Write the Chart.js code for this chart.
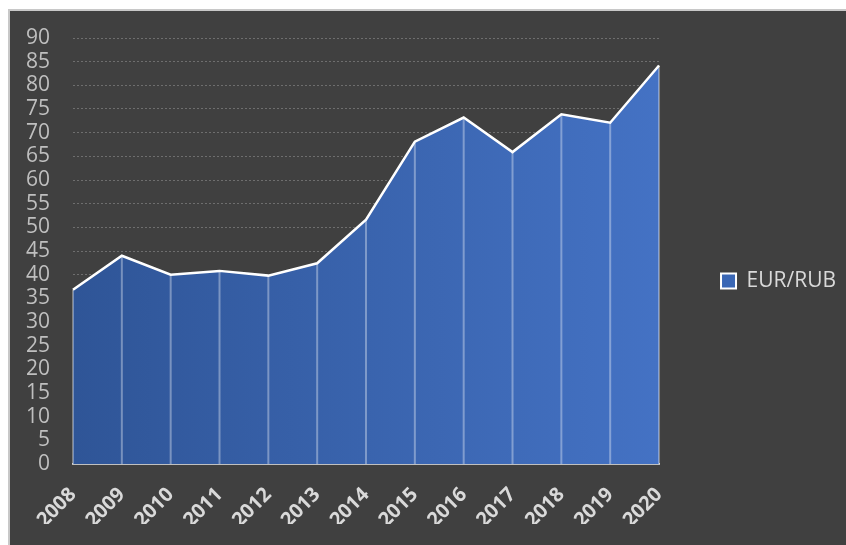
<!DOCTYPE html>
<html>
<head>
<meta charset="utf-8">
<script src="https://cdn.jsdelivr.net/npm/chart.js@4/dist/chart.umd.min.js"></script>
<style>
  html, body { margin: 0; padding: 0; background: #ffffff; }
  #frame {
    position: absolute; left: 8px; top: 9px; width: 836px; height: 534px;
    background: #404040; border-left: 2px solid #c8c8c8; border-top: 2px solid #c8c8c8;
  }
  canvas { display: block; }
</style>
</head>
<body>
<div id="frame"><canvas id="chart" width="836" height="534"></canvas></div>
<script>
const years = ['2008', '2009', '2010', '2011', '2012', '2013', '2014', '2015', '2016', '2017', '2018', '2019', '2020'];
const eurRub = [36.8, 44.0, 40.0, 40.8, 39.8, 42.4, 51.6, 68.1, 73.2, 65.9, 73.9, 72.1, 84.2];
const seriesName = 'EUR/RUB';
const yMin = 0, yMax = 90, yStep = 5;

const fillLeft = '#2f5597';
const fillRight = '#4472c4';

// light vertical line under each point, drawn after the fill and before the white line
const dropLines = {
    id: 'dropLines',
    beforeDatasetDraw(chart, args) {
        const ctx = chart.ctx;
        const bottom = chart.scales.y.getPixelForValue(0);
        ctx.save();
        ctx.strokeStyle = 'rgba(255,255,255,0.35)';
        ctx.lineWidth = 2;
        args.meta.data.forEach(pt => {
            ctx.beginPath();
            ctx.moveTo(pt.x, pt.y);
            ctx.lineTo(pt.x, bottom);
            ctx.stroke();
        });
        ctx.restore();
    }
};

Chart.defaults.font.family = "'Open Sans', sans-serif";

new Chart(document.getElementById('chart'), {
    type: 'line',
    data: {
        labels: years,
        datasets: [{
            label: seriesName,
            data: eurRub,
            fill: 'origin',
            borderColor: '#ffffff',
            borderWidth: 2.5,
            pointRadius: 0,
            tension: 0,
            backgroundColor: (c) => {
                const a = c.chart.chartArea;
                if (!a) return fillRight;
                const g = c.chart.ctx.createLinearGradient(a.left, 0, a.right, 0);
                g.addColorStop(0, fillLeft);
                g.addColorStop(1, fillRight);
                return g;
            }
        }]
    },
    options: {
        responsive: false,
        animation: false,
        layout: { padding: { left: 0, right: 0, top: 27, bottom: 21 } },
        plugins: {
            tooltip: { enabled: false },
            legend: {
                position: 'right',
                labels: {
                    boxWidth: 15,
                    boxHeight: 15,
                    padding: 10,
                    color: '#d9d9d9',
                    font: { size: 21 },
                    generateLabels: () => [{
                        text: seriesName, fillStyle: '#3a67b5', strokeStyle: '#ffffff',
                        lineWidth: 2, fontColor: '#d9d9d9', hidden: false, datasetIndex: 0
                    }]
                }
            }
        },
        scales: {
            x: {
                offset: false,
                grid: { display: false },
                border: { display: true, color: '#c0c0c0', width: 2 },
                ticks: {
                    color: '#d9d9d9', minRotation: 45, maxRotation: 45, padding: 11,
                    autoSkip: false, font: { size: 20, weight: 'bold' }
                },
                afterFit: s => { s.height = 60; }
            },
            y: {
                min: yMin, max: yMax,
                grid: { color: '#6e6e6e', lineWidth: 1, drawTicks: true, tickLength: 20, tickColor: 'rgba(0,0,0,0)' },
                border: { display: false, dash: [2, 2] },
                ticks: { stepSize: yStep, color: '#bfbfbf', padding: 3, autoSkip: false, font: { size: 21 } },
                afterFit: s => { s.width = 63; }
            },
            gap: {
                position: 'right',
                display: true,
                grid: { display: false },
                border: { display: false },
                ticks: { display: false },
                afterFit: s => { s.width = 52; }
            }
        }
    },
    plugins: [dropLines]
});
</script>
</body>
</html>
